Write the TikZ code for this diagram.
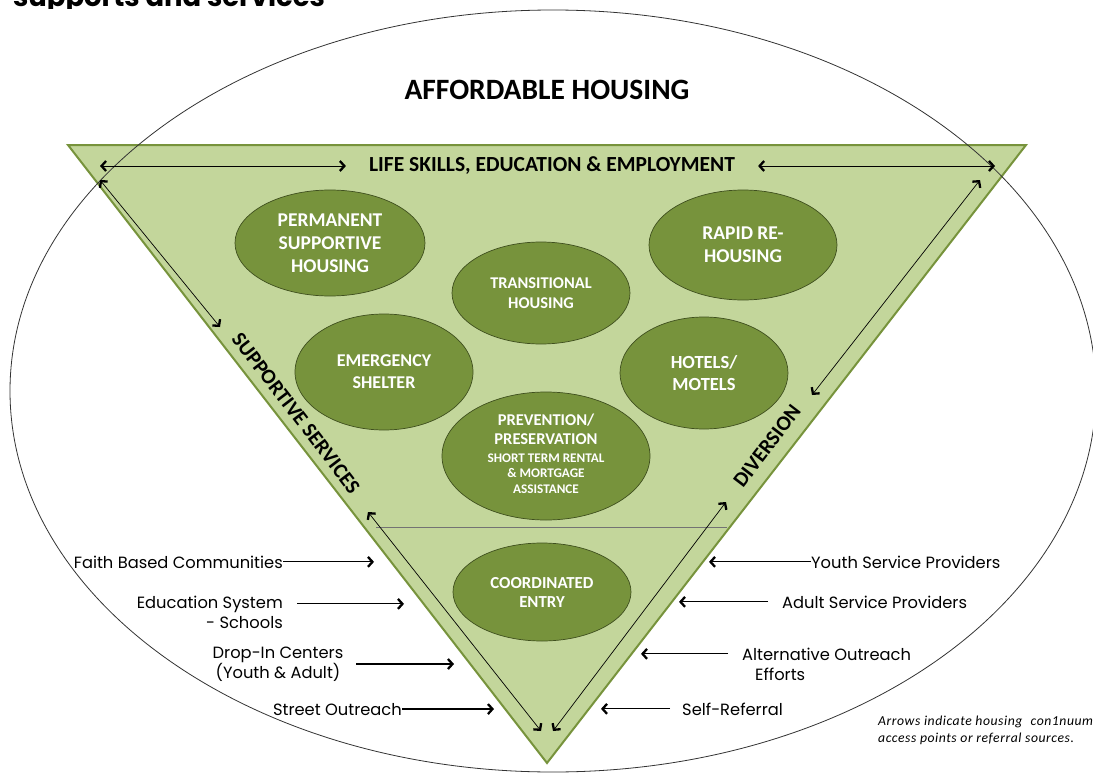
\documentclass[tikz,border=0pt]{standalone}
\usepackage{fontspec}
\setmainfont{Carlito}
\newfontfamily\geo{Poppins}
\usetikzlibrary{arrows.meta,shapes.geometric}
\definecolor{leaf}{HTML}{C3D69B}
\definecolor{moss}{HTML}{77933C}
\definecolor{mossline}{HTML}{3F4F1E}
\tikzset{
  chev/.tip={Straight Barb[length=4.5pt,width=10pt,line width=2.3pt 0]},
  house/.style={ellipse, draw=mossline, line width=0.7pt, fill=moss, text=white,
                align=center, inner sep=0pt},
  hfont/.style n args={2}{font=\bfseries\fontsize{#1}{#2}\selectfont},
  refarrow/.style={draw=black, line width=1.1pt, -chev},
  track/.style={draw=black, line width=0.7pt, chev-chev},
  source/.style={font=\geo\fontsize{16.3}{20}\selectfont, inner sep=0pt},
  edgeword/.style={font=\bfseries\fontsize{21}{21}\selectfont, inner sep=0pt},
}
\begin{document}
\begin{tikzpicture}[x=1pt,y=-1pt]
\useasboundingbox (0,0) rectangle (1093,776);

% heading line, cut by the top edge of the page
\begin{scope}
  \clip (0,0) rectangle (420,9);
  \node[anchor=base west, inner sep=0pt, font=\geo\bfseries\fontsize{27.4}{30}\selectfont]
    (heading) at (13,7) {supports and services};
\end{scope}

% the inverted triangle of housing options
\coordinate (tl) at (68,145);
\coordinate (tr) at (1026,145);
\coordinate (apex) at (547,763);
\filldraw[fill=leaf, draw=moss, line width=2pt] (tl) -- (tr) -- (apex) -- cycle;

% outer ring
\draw[line width=0.8pt, black!80] (553,391) ellipse [x radius=543pt, y radius=381pt];

% divider above coordinated entry
\coordinate (divL) at (376,527);
\coordinate (divR) at (727,527);
\draw[line width=0.6pt, black!55] (divL) -- (divR);

% titles
\node[inner sep=0pt, font=\bfseries\fontsize{29.5}{29.5}\selectfont] (title) at (547,90) {AFFORDABLE HOUSING};
\node[inner sep=0pt, font=\bfseries\fontsize{21.5}{21.5}\selectfont] (life) at (552,166) {LIFE SKILLS, EDUCATION \& EMPLOYMENT};

% arrows along the top side
\coordinate (topL) at (100,166);
\coordinate (topR) at (995,166);
\draw[track] (topL) -- ([xshift=-23pt]life.west);
\draw[track] ([xshift=23pt]life.east) -- (topR);

% side labels
\node[edgeword, rotate=-52.5] (support) at (296,413) {SUPPORTIVE SERVICES};
\node[edgeword, rotate=52.6] (divert) at (767,446) {DIVERSION};

% arrows along the left side
\coordinate (ls1) at (100,180);
\coordinate (ls2) at (220,327);
\coordinate (ls3) at (368,512);
\coordinate (ls4) at (541,731);
\draw[track] (ls1) -- (ls2);
\draw[track] (ls3) -- (ls4);

% arrows along the right side
\coordinate (rs1) at (980,180);
\coordinate (rs2) at (812,395);
\coordinate (rs3) at (726,502);
\coordinate (rs4) at (553,731);
\draw[track] (rs1) -- (rs2);
\draw[track] (rs3) -- (rs4);

% housing options
\node[house, minimum width=190pt, minimum height=106pt, hfont={19.5}{23}] (psh) at (330,243)
  {PERMANENT\\SUPPORTIVE\\HOUSING};
\node[house, minimum width=188pt, minimum height=110pt, hfont={19.5}{23}] (rrh) at (743,245)
  {RAPID RE-\\HOUSING};
\node[house, minimum width=178pt, minimum height=102pt, hfont={16.4}{20}] (trans) at (541,293)
  {TRANSITIONAL\\HOUSING};
\node[house, minimum width=178pt, minimum height=116pt, hfont={18}{22}] (shelter) at (384,372)
  {EMERGENCY\\SHELTER};
\node[house, minimum width=168pt, minimum height=112pt, hfont={18.5}{22}] (hotel) at (704,373)
  {HOTELS/\\MOTELS};
\node[house, minimum width=208pt, minimum height=128pt] (prev) at (546,456)
  {\fontsize{13.2}{15}\selectfont\begin{tabular}{@{}c@{}}
    \bfseries\fontsize{16.5}{15}\selectfont PREVENTION/\\[4pt]
    \bfseries\fontsize{16.5}{15}\selectfont PRESERVATION\\[3pt]
    \bfseries SHORT TERM RENTAL\\
    \bfseries \& MORTGAGE\\[1pt]
    \bfseries ASSISTANCE
  \end{tabular}};
\node[house, minimum width=178pt, minimum height=98pt, hfont={16.8}{19}] (entry) at (542,592)
  {COORDINATED\\ENTRY};

% referral sources on the left
\node[source, anchor=base east] (faith) at (283,568) {Faith Based Communities};
\coordinate (faithTip) at (374,0);
\draw[refarrow] (faith.east) -- (faith.east -| faithTip);

\node[source, anchor=base east] (edu) at (283,608) {Education System};
\node[source, anchor=base east] (school) at (283,628) {- Schools};
\coordinate (eduTip) at (404,0);
\draw[refarrow] ([xshift=14pt]edu.east) -- (edu.east -| eduTip);

\node[source, align=center] (drop) at (278,664) {Drop-In Centers\\(Youth \& Adult)};
\coordinate (dropTip) at (454,0);
\draw[refarrow] ([xshift=13pt]drop.east) -- (drop.east -| dropTip);

\node[source, anchor=base east] (street) at (402,715) {Street Outreach};
\coordinate (streetTip) at (494,0);
\draw[refarrow] (street.east) -- (street.east -| streetTip);

% referral sources on the right
\node[source, anchor=base west] (youth) at (811,568) {Youth Service Providers};
\coordinate (youthTip) at (709,0);
\draw[refarrow] (youth.west) -- (youth.west -| youthTip);

\node[source, anchor=base west] (adult) at (782,608) {Adult Service Providers};
\coordinate (adultTip) at (679,0);
\draw[refarrow] ([xshift=-14pt]adult.west) -- (adult.west -| adultTip);

\node[source, anchor=base west] (alt) at (742,660) {Alternative Outreach};
\node[source, anchor=base west] (effort) at (755,680) {Efforts};
\coordinate (altTip) at (641,0);
\draw[refarrow] ([xshift=-14pt]alt.west) -- (alt.west -| altTip);

\node[source, anchor=base west] (self) at (682,715) {Self-Referral};
\coordinate (selfTip) at (601,0);
\draw[refarrow] ([xshift=-12pt]self.west) -- (self.west -| selfTip);

% footnote
\node[anchor=base west, inner sep=0pt, align=left,
      font=\itshape\fontsize{13.7}{16.5}\selectfont\addfontfeature{LetterSpace=4}]
  (note) at (878,742) {Arrows indicate housing\hspace{0.6em}con1nuum\\access points or referral sources.};
\end{tikzpicture}
\end{document}
